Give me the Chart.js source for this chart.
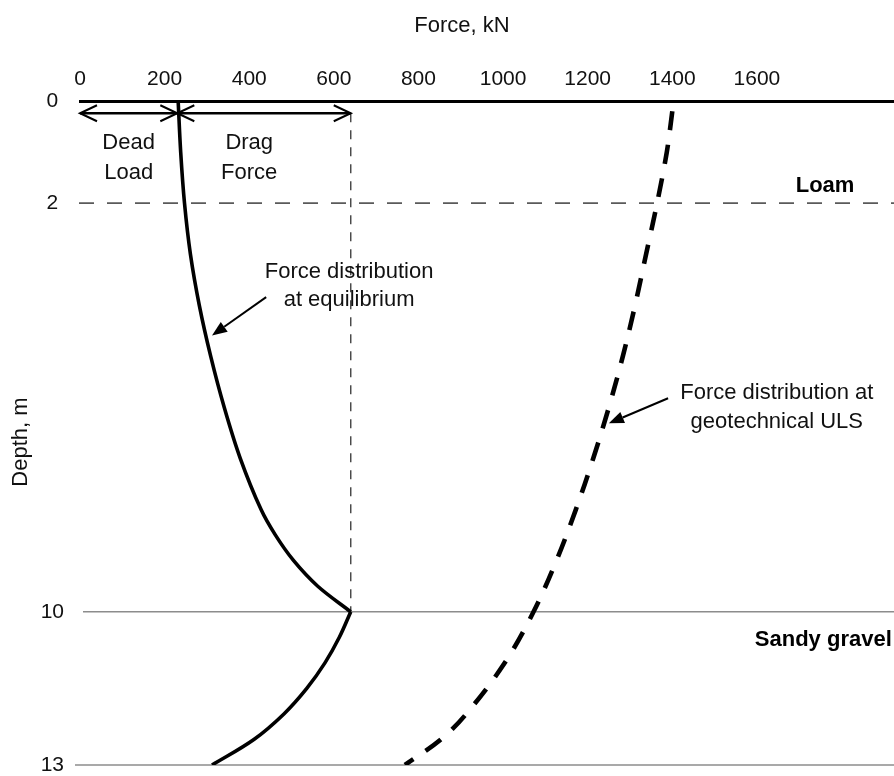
<!DOCTYPE html>
<html>
<head>
<meta charset="utf-8">
<title>Pile force distribution</title>
<script src="https://cdn.jsdelivr.net/npm/chart.js@4.4.1/dist/chart.umd.min.js"></script>
<style>
  html, body { margin: 0; padding: 0; background: #ffffff; }
  #wrap { width: 894px; height: 776px; }
</style>
</head>
<body>
<div id="wrap"><canvas id="chart" width="894" height="776"></canvas></div>
<script>
// Axis ticks
const forceTicks = [0, 200, 400, 600, 800, 1000, 1200, 1400, 1600];   // kN
const depthTicks = [0, 2, 10, 13];                                     // m

// Soil profile boundaries (m)
const loamBase = 2;
const gravelTop = 10;
const pileToe = 13;

// Load components at the pile head (kN)
const deadLoad = 230;
const maxForce = 640;   // dead load + drag force, at the neutral plane

// Force distribution at equilibrium, above the neutral plane
const eqUpperDepth = [0, 1, 2, 3, 4, 5, 6, 7, 8, 8.5, 9, 9.5, 10];
const eqUpperForce = [232, 238, 247, 261, 282, 309, 341, 379, 428, 462, 505, 562, 640];

// Force distribution at equilibrium, below the neutral plane
const eqLowerDepth = [10, 10.5, 11, 11.5, 12, 12.5, 13];
const eqLowerForce = [640, 613, 579, 536, 482, 411, 312];

// Force distribution at geotechnical ULS
const ulsDepth = [0.2, 1, 2, 3, 4, 5, 6, 7, 8, 9, 10, 11, 12, 12.5, 13];
const ulsForce = [1400, 1387, 1364, 1338, 1312, 1283, 1250, 1213, 1172, 1126, 1072, 1004, 913, 853, 768];

const FONT = '"Liberation Sans", Arial, Helvetica, sans-serif';

function toPoints(depths, forces) {
  return depths.map((d, i) => ({ x: forces[i], y: d }));
}

function hLine(ctx, x1, x2, y) {
  ctx.beginPath(); ctx.moveTo(x1, y); ctx.lineTo(x2, y); ctx.stroke();
}

function openHead(ctx, tipX, tipY, dir) {
  // dir = -1 points left, +1 points right
  ctx.beginPath();
  ctx.moveTo(tipX - dir * 17, tipY - 8);
  ctx.lineTo(tipX, tipY);
  ctx.lineTo(tipX - dir * 17, tipY + 8);
  ctx.stroke();
}

function leader(ctx, x1, y1, x2, y2) {
  const ang = Math.atan2(y2 - y1, x2 - x1);
  const len = 15, half = 6;
  const bx = x2 - len * Math.cos(ang), by = y2 - len * Math.sin(ang);
  ctx.beginPath(); ctx.moveTo(x1, y1); ctx.lineTo(bx, by); ctx.stroke();
  ctx.beginPath();
  ctx.moveTo(x2, y2);
  ctx.lineTo(bx + half * Math.sin(ang), by - half * Math.cos(ang));
  ctx.lineTo(bx - half * Math.sin(ang), by + half * Math.cos(ang));
  ctx.closePath(); ctx.fill();
}

const profilePlugin = {
  id: 'profile',
  beforeDatasetsDraw(chart) {
    const { ctx, chartArea: a, scales: { x, y } } = chart;
    ctx.save();
    // Loam base
    ctx.strokeStyle = '#5a5a5a'; ctx.lineWidth = 1.6; ctx.setLineDash([15, 13]);
    hLine(ctx, a.left - 1, a.right, y.getPixelForValue(loamBase));
    // Sandy gravel top and pile toe
    ctx.setLineDash([]); ctx.strokeStyle = '#8c8c8c'; ctx.lineWidth = 1.6;
    hLine(ctx, a.left + 3, a.right, y.getPixelForValue(gravelTop));
    hLine(ctx, a.left - 5, a.right, y.getPixelForValue(pileToe));
    // Maximum force marker
    ctx.strokeStyle = '#333'; ctx.lineWidth = 1.3; ctx.setLineDash([9, 8]);
    ctx.beginPath();
    ctx.moveTo(x.getPixelForValue(maxForce), y.getPixelForValue(0.24));
    ctx.lineTo(x.getPixelForValue(maxForce), y.getPixelForValue(gravelTop));
    ctx.stroke();
    ctx.restore();
  },
  afterDraw(chart) {
    const { ctx, scales: { x, y } } = chart;
    ctx.save();
    ctx.strokeStyle = '#000'; ctx.fillStyle = '#000';

    // Dead load and drag force dimension arrows
    const ay = y.getPixelForValue(0.24);
    const x0 = x.getPixelForValue(0), xd = x.getPixelForValue(deadLoad), xm = x.getPixelForValue(maxForce);
    ctx.lineWidth = 2.4;
    hLine(ctx, x0, xm, ay);
    ctx.lineWidth = 2;
    openHead(ctx, x0, ay, -1);
    openHead(ctx, xd, ay, 1);
    openHead(ctx, xd, ay, -1);
    openHead(ctx, xm, ay, 1);

    // Leader arrows
    ctx.lineWidth = 2;
    leader(ctx, x.getPixelForValue(440), y.getPixelForValue(3.84),
                x.getPixelForValue(312), y.getPixelForValue(4.59));
    leader(ctx, x.getPixelForValue(1390), y.getPixelForValue(5.82),
                x.getPixelForValue(1250), y.getPixelForValue(6.31));

    // Text
    ctx.fillStyle = '#111';
    ctx.textAlign = 'center'; ctx.textBaseline = 'middle';
    ctx.font = '22px ' + FONT;
    ctx.fillText('Dead', x.getPixelForValue(deadLoad / 2), y.getPixelForValue(0.83));
    ctx.fillText('Load', x.getPixelForValue(deadLoad / 2), y.getPixelForValue(1.41));
    ctx.fillText('Drag', x.getPixelForValue(400), y.getPixelForValue(0.83));
    ctx.fillText('Force', x.getPixelForValue(400), y.getPixelForValue(1.41));
    ctx.fillText('Force distribution', x.getPixelForValue(636), y.getPixelForValue(3.35));
    ctx.fillText('at equilibrium', x.getPixelForValue(636), y.getPixelForValue(3.9));
    ctx.fillText('Force distribution at', x.getPixelForValue(1647), y.getPixelForValue(5.72));
    ctx.fillText('geotechnical ULS', x.getPixelForValue(1647), y.getPixelForValue(6.28));

    ctx.font = 'bold 22px ' + FONT;
    ctx.fillStyle = '#000';
    ctx.fillText('Loam', x.getPixelForValue(1761), y.getPixelForValue(1.66));
    ctx.textAlign = 'left';
    ctx.fillText('Sandy gravel', x.getPixelForValue(1595), y.getPixelForValue(10.55));

    // Axis titles
    ctx.fillStyle = '#111';
    ctx.font = '22px ' + FONT;
    ctx.textAlign = 'center';
    ctx.fillText('Force, kN', 462, 26);
    ctx.translate(21, 442);
    ctx.rotate(-Math.PI / 2);
    ctx.fillText('Depth, m', 0, 0);
    ctx.restore();
  }
};

const solidStyle = {
  showLine: true, borderColor: '#000', borderWidth: 3.6, pointRadius: 0,
  tension: 0.35, fill: false
};

new Chart(document.getElementById('chart'), {
  type: 'scatter',
  data: {
    datasets: [
      Object.assign({ label: 'Equilibrium', data: toPoints(eqUpperDepth, eqUpperForce) }, solidStyle),
      Object.assign({ label: 'Equilibrium (below neutral plane)', data: toPoints(eqLowerDepth, eqLowerForce) }, solidStyle),
      {
        label: 'Geotechnical ULS', data: toPoints(ulsDepth, ulsForce),
        showLine: true, borderColor: '#000', borderWidth: 4.6, borderDash: [19, 15],
        pointRadius: 0, tension: 0.35, fill: false
      }
    ]
  },
  options: {
    responsive: false,
    animation: false,
    devicePixelRatio: 1,
    layout: { padding: { left: 0, right: 0, top: 0, bottom: 11 } },
    plugins: { legend: { display: false }, tooltip: { enabled: false } },
    scales: {
      x: {
        type: 'linear', position: 'top', min: 0, max: 1924,
        afterBuildTicks: (s) => { s.ticks = forceTicks.map(v => ({ value: v })); },
        afterFit: (s) => { s.height = 101; s.paddingLeft = 0; s.paddingRight = 0; },
        grid: { display: false, drawTicks: false },
        border: { display: true, color: '#000', width: 3 },
        ticks: {
          color: '#111', font: { family: FONT, size: 21 }, padding: 9, maxRotation: 0, autoSkip: false,
          callback: (v) => String(v)
        }
      },
      y: {
        type: 'linear', reverse: true, min: 0, max: 13,
        afterBuildTicks: (s) => { s.ticks = depthTicks.map(v => ({ value: v })); },
        afterFit: (s) => { s.width = 80; s.paddingTop = 0; s.paddingBottom = 0; },
        grid: { display: false, drawTicks: false },
        border: { display: false },
        ticks: {
          color: '#111', font: { family: FONT, size: 21 }, padding: 16, crossAlign: 'center', autoSkip: false,
          callback: (v) => String(v)
        }
      }
    }
  },
  plugins: [profilePlugin]
});
</script>
</body>
</html>
